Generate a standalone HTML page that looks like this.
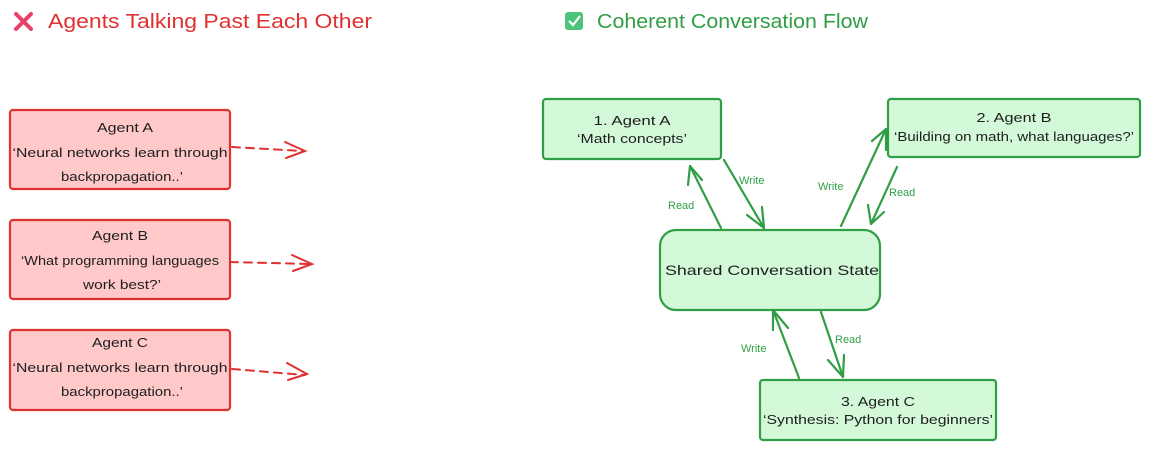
<!DOCTYPE html>
<html><head><meta charset="utf-8"><style>
html,body{margin:0;padding:0;background:#fff;}
svg{display:block;font-family:"Liberation Sans",sans-serif;}
</style></head><body>
<svg width="1152" height="450" viewBox="0 0 1152 450" xmlns="http://www.w3.org/2000/svg">
<g stroke="#e8416a" stroke-width="4" stroke-linecap="round">
<line x1="16" y1="14" x2="31" y2="29"/><line x1="31" y1="14" x2="16" y2="29"/>
</g>
<text x="48" y="28" font-size="20" fill="#e03131" textLength="324" lengthAdjust="spacingAndGlyphs">Agents Talking Past Each Other</text>
<rect x="565" y="12" width="18" height="18" rx="3" fill="#4cc47a"/>
<polyline points="569,21 573,25 580,16" fill="none" stroke="#fff" stroke-width="2.2"/>
<text x="597" y="28" font-size="20" fill="#2f9e44" textLength="271" lengthAdjust="spacingAndGlyphs">Coherent Conversation Flow</text>

<g fill="#ffc9c9" stroke="#e03131" stroke-width="2.2">
<rect x="10" y="110" width="220" height="79" rx="3"/>
<rect x="10" y="220" width="220" height="79" rx="3"/>
<rect x="10" y="330" width="220" height="80" rx="3"/>
</g>
<g font-size="13" fill="#1e1e1e" text-anchor="middle">
<text x="125" y="132" textLength="56" lengthAdjust="spacingAndGlyphs">Agent A</text>
<text x="120" y="157" textLength="215" lengthAdjust="spacingAndGlyphs">‘Neural networks learn through</text>
<text x="122" y="181" textLength="122" lengthAdjust="spacingAndGlyphs">backpropagation..’</text>
<text x="120" y="240" textLength="56" lengthAdjust="spacingAndGlyphs">Agent B</text>
<text x="120" y="265" textLength="198" lengthAdjust="spacingAndGlyphs">‘What programming languages</text>
<text x="122" y="289" textLength="78" lengthAdjust="spacingAndGlyphs">work best?’</text>
<text x="120" y="347" textLength="56" lengthAdjust="spacingAndGlyphs">Agent C</text>
<text x="120" y="372" textLength="215" lengthAdjust="spacingAndGlyphs">‘Neural networks learn through</text>
<text x="122" y="396" textLength="122" lengthAdjust="spacingAndGlyphs">backpropagation..’</text>
</g>
<g stroke="#e03131" stroke-width="2" fill="none" stroke-linecap="round">
<path d="M232 147 L303 151" stroke-dasharray="8 6"/>
<path d="M285 142 L305 151 L286 158"/>
<path d="M230 262 L310 264" stroke-dasharray="8 6"/>
<path d="M292 255 L312 264 L293 271"/>
<path d="M232 369 L305 375" stroke-dasharray="8 6"/>
<path d="M287 363 L307 374 L288 380"/>
</g>

<g fill="#d3f9d8" stroke="#2f9e44" stroke-width="2.2">
<rect x="543" y="99" width="178" height="60" rx="3"/>
<rect x="888" y="99" width="252" height="58" rx="3"/>
<rect x="660" y="230" width="220" height="80" rx="16"/>
<rect x="760" y="380" width="236" height="60" rx="3"/>
</g>
<g font-size="13" fill="#1e1e1e" text-anchor="middle">
<text x="632" y="125" textLength="77" lengthAdjust="spacingAndGlyphs">1. Agent A</text>
<text x="632" y="143" textLength="110" lengthAdjust="spacingAndGlyphs">‘Math concepts’</text>
<text x="1014" y="122" textLength="75" lengthAdjust="spacingAndGlyphs">2. Agent B</text>
<text x="1014" y="141" textLength="240" lengthAdjust="spacingAndGlyphs">‘Building on math, what languages?’</text>
<text x="772" y="275" font-size="14" textLength="214" lengthAdjust="spacingAndGlyphs">Shared Conversation State</text>
<text x="878" y="406" textLength="74" lengthAdjust="spacingAndGlyphs">3. Agent C</text>
<text x="878" y="424" textLength="230" lengthAdjust="spacingAndGlyphs">‘Synthesis: Python for beginners’</text>
</g>
<g stroke="#2f9e44" stroke-width="2.2" fill="none" stroke-linecap="round" stroke-linejoin="round">
<path d="M724 160 L764 228"/><path d="M747 215 L764 228 L762 207"/>
<path d="M721 228 L690 166"/><path d="M688 185 L690 166 L702 180"/>
<path d="M841 226 L886 129"/><path d="M872 141 L886 129 L886 150"/>
<path d="M897 167 L871 224"/><path d="M868 205 L871 224 L884 212"/>
<path d="M799 378 L773 310"/><path d="M773 330 L773 310 L788 328"/>
<path d="M821 312 L843 377"/><path d="M828 360 L843 377 L844 355"/>
</g>
<g font-size="11" fill="#2f9e44">
<text x="739" y="184">Write</text>
<text x="668" y="209">Read</text>
<text x="818" y="190">Write</text>
<text x="889" y="196">Read</text>
<text x="741" y="352">Write</text>
<text x="835" y="343">Read</text>
</g>
</svg>
</body></html>
